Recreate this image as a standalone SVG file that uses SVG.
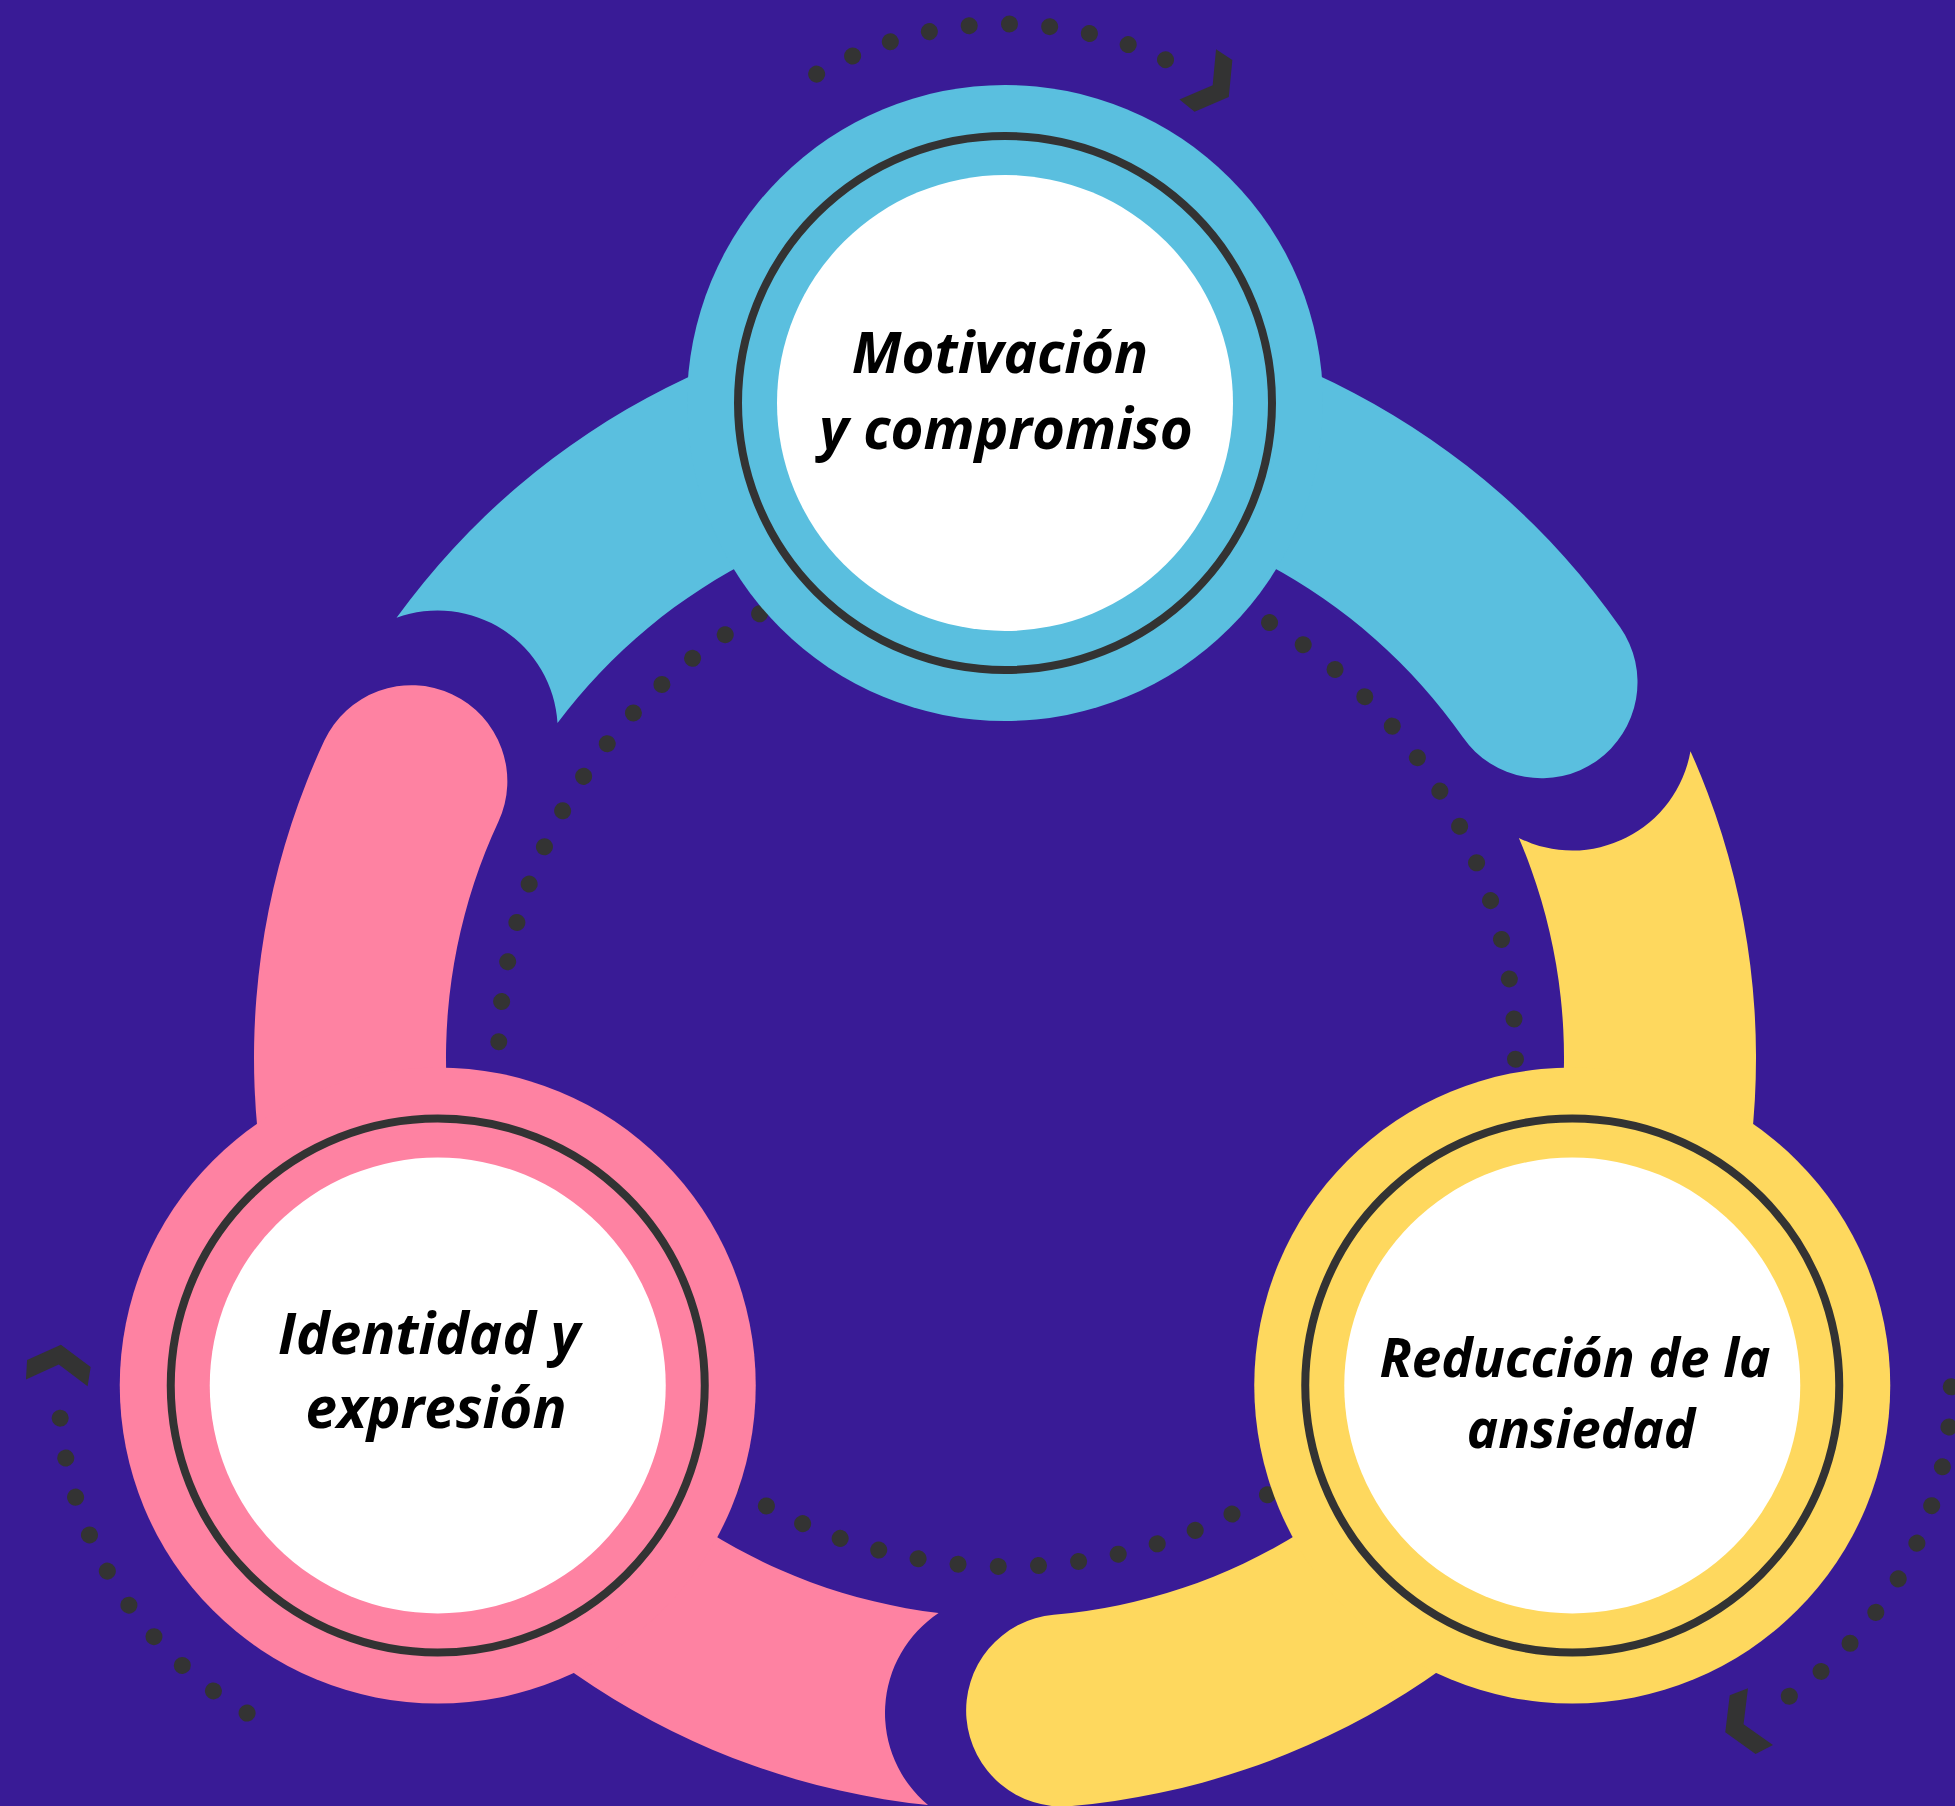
<svg xmlns="http://www.w3.org/2000/svg" xmlns:xlink="http://www.w3.org/1999/xlink" width="1955" height="1806" viewBox="0 0 1955 1806">
  <style>
    .bg { fill: #391B96; }
    .dots { fill: none; stroke: #333333; stroke-width: 17; stroke-linecap: round; stroke-dasharray: 0.01 40.3; }
    .ring { fill: none; stroke: #333333; stroke-width: 8; }
    .inner { fill: #FFFFFF; }
    .chev { fill: #333333; }
    .label { font-family: "Open Sans", "Liberation Sans", sans-serif; font-weight: 700; font-style: italic; font-size: 56.5px; fill: #000000; text-anchor: middle; }
    .small { font-size: 53px; }
    .blue { fill: #5ABFDF; }
    .pink { fill: #FE82A2; }
    .yellow { fill: #FED85E; }
  </style>
  <defs>
    <path id="band" d="M 396.53 617.80 A 751 751 0 0 1 1620.18 627.24 A 96 96 0 0 1 1462.90 737.37 A 559 559 0 0 0 557.51 722.98 A 120 120 0 0 0 396.53 617.80 Z"/>
    <g id="outer-arrow">
      <path class="dots" d="M 816.65 74.12 A 379 379 0 0 1 1182.93 68.36"/>
      <polygon class="chev" points="0,0 -19,-32 -38.5,-31 -20,0 -38.5,31 -19,32" transform="translate(1228.8 97.1) rotate(36.2)"/>
    </g>
  </defs>

  <rect class="bg" x="0" y="0" width="1955" height="1806"/>

  <g id="connectors">
    <circle class="dots" cx="1007" cy="1058" r="508.5" transform="rotate(-90.71 1007 1058)"/>
    <use xlink:href="#band" class="blue"/>
    <use xlink:href="#band" class="yellow" transform="rotate(120 1005 1058)"/>
    <use xlink:href="#band" class="pink" transform="rotate(240 1005 1058)"/>
    <use xlink:href="#outer-arrow"/>
    <use xlink:href="#outer-arrow" transform="rotate(120 1005 1058)"/>
    <use xlink:href="#outer-arrow" transform="rotate(240 1005 1058)"/>
  </g>

  <g id="node-motivacion">
    <circle class="blue" cx="1005" cy="403" r="318"/>
    <circle class="ring" cx="1005" cy="403" r="267"/>
    <circle class="inner" cx="1005" cy="403" r="228"/>
    <text class="label" x="1000" y="373">Motivación</text>
    <text class="label" x="1006" y="449">y compromiso</text>
  </g>

  <g id="node-identidad">
    <circle class="pink" cx="437.75" cy="1385.5" r="318"/>
    <circle class="ring" cx="437.75" cy="1385.5" r="267"/>
    <circle class="inner" cx="437.75" cy="1385.5" r="228"/>
    <text class="label" x="429" y="1354">Identidad y</text>
    <text class="label" x="436" y="1428">expresión</text>
  </g>

  <g id="node-reduccion">
    <circle class="yellow" cx="1572.25" cy="1385.5" r="318"/>
    <circle class="ring" cx="1572.25" cy="1385.5" r="267"/>
    <circle class="inner" cx="1572.25" cy="1385.5" r="228"/>
    <text class="label small" x="1575" y="1377">Reducción de la</text>
    <text class="label small" x="1581" y="1448">ansiedad</text>
  </g>
</svg>
